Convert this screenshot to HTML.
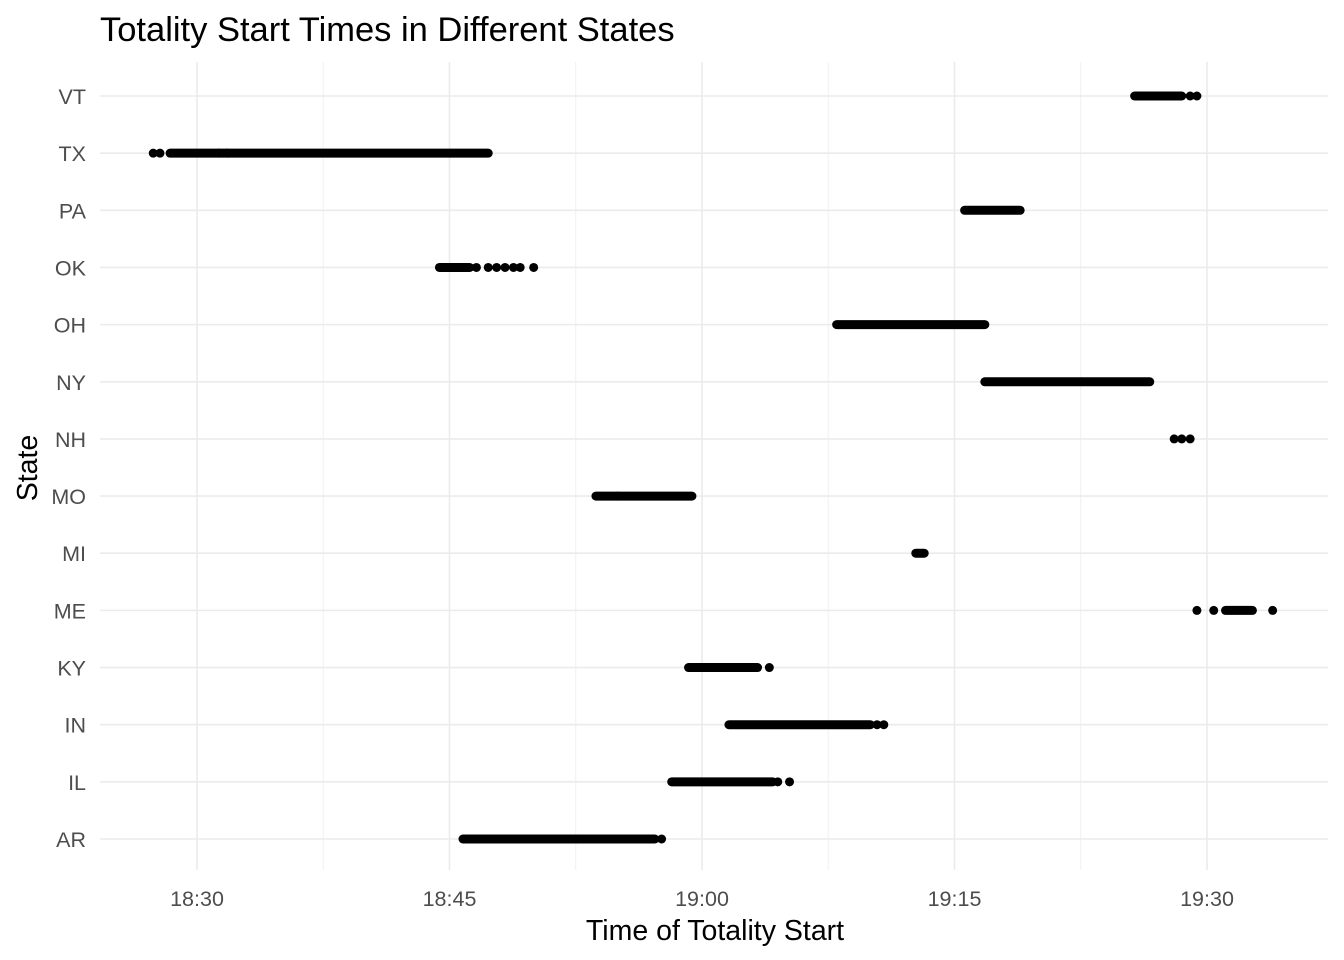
<!DOCTYPE html>
<html><head><meta charset="utf-8"><style>
body{margin:0;background:#fff;}
svg{display:block;font-family:"Liberation Sans",sans-serif;}
</style></head><body>
<svg id="chart" width="1344" height="960" viewBox="0 0 1344 960">
<rect width="1344" height="960" fill="#fff"/>
<text x="100" y="41" font-size="34.5" fill="#000">Totality Start Times in Different States</text>
<g id="grid"></g><g id="marks"></g><g id="labels"></g>
<text x="715" y="940" font-size="28.5" text-anchor="middle" fill="#000">Time of Totality Start</text>
<text transform="translate(37,468) rotate(-90)" font-size="28.5" text-anchor="middle" fill="#000">State</text>
</svg>
<script>
// minutes after 18:00
const states = ["AR","IL","IN","KY","ME","MI","MO","NH","NY","OH","OK","PA","TX","VT"];
const segStart = [45.8,58.2,61.6,59.2,91.1,72.7,53.7,null,76.8,68.0,44.4,75.6,28.4,85.7];
const segEnd   = [57.2,64.2,70.0,63.3,92.7,73.2,59.4,null,86.6,76.8,46.2,78.9,47.3,88.5];
const extraPts = [[57.6],[64.5,65.2],[70.4,70.8],[64.0],[89.4,90.4,93.9],[],[55.0],[88.05,88.5,89.0],[],[],[46.6,47.3,47.8,48.3,48.8,49.2,50.0],[],[27.4,27.8,31.3,31.8],[89.0,89.4]];
const xTicks = [30,45,60,75,90];
const xTickLabels = ["18:30","18:45","19:00","19:15","19:30"];

const NS="http://www.w3.org/2000/svg";
const x = m => 197 + (m-30)*(252.5/15);
const y = i => 839 - i*(743/13);
const grid=document.getElementById('grid'), marks=document.getElementById('marks'), labels=document.getElementById('labels');
function mk(tag,attrs,parent){const e=document.createElementNS(NS,tag);for(const k in attrs)e.setAttribute(k,attrs[k]);parent.appendChild(e);return e;}
for(let k=0;k<xTicks.length-1;k++){
  const mm=(xTicks[k]+xTicks[k+1])/2;
  const gm=mk('line',{x1:x(mm),x2:x(mm),y1:62,y2:870,stroke:'#f0f0f0','stroke-width':1},grid);
  
  
}
xTicks.forEach((t,k)=>{
  const g=mk('line',{x1:x(t),x2:x(t),y1:62,y2:870,stroke:'#ebebeb','stroke-width':1.6},grid);
  
  
  const tl=mk('text',{x:x(t),y:906,'font-size':21.5,'text-anchor':'middle',fill:'#4d4d4d'},labels);
  tl.textContent=xTickLabels[k];
  
  
});
states.forEach((s,i)=>{
  const g=mk('line',{x1:100,x2:1328,y1:y(i),y2:y(i),stroke:'#ebebeb','stroke-width':1.6},grid);
  
  
  const tl=mk('text',{x:86,y:y(i)+8,'font-size':21.5,'text-anchor':'end',fill:'#4d4d4d'},labels);
  tl.textContent=s;
  
  
  if(segStart[i]!==null){
    const l=mk('line',{x1:x(segStart[i]),x2:x(segEnd[i]),y1:y(i),y2:y(i),stroke:'#000','stroke-width':9,'stroke-linecap':'round'},marks);
    
    
  }
  extraPts[i].forEach(m=>{
    const c=mk('circle',{cx:x(m),cy:y(i),r:4.5,fill:'#000'},marks);
    
    
  });
});
</script>
</body></html>
